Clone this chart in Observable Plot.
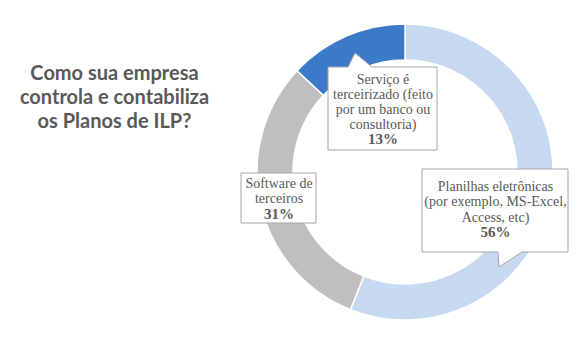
<!DOCTYPE html>
<html>
<head>
<meta charset="utf-8">
<script src="https://cdn.jsdelivr.net/npm/d3@7"></script>
<script src="https://cdn.jsdelivr.net/npm/@observablehq/plot@0.6"></script>
<style>
  html, body { margin: 0; padding: 0; background: #fff; }
  #chart svg { display: block; }
</style>
</head>
<body>
<div id="chart"></div>
<script>
// ---- data ----
const categories = [
  "Planilhas eletrônicas (por exemplo, MS-Excel, Access, etc)",
  "Software de terceiros",
  "Serviço é terceirizado (feito por um banco ou consultoria)"
];
const values = [56, 31, 13];
const labelLines = [
  ["Planilhas eletrônicas", "(por exemplo, MS-Excel,", "Access, etc)"],
  ["Software de", "terceiros"],
  ["Serviço é", "terceirizado (feito", "por um banco ou", "consultoria)"]
];
const colors = ["#C6D9F1", "#BFBFBF", "#3A7AC8"];
const titleLines = ["Como sua empresa", "controla e contabiliza", "os Planos de ILP?"];

// ---- layout (pixel space) ----
const W = 588, H = 356;
const donut = {cx: 405, cy: 172, outer: 148, inner: 112};
const boxes = [
  {x1: 422, x2: 568, y1: 169, y2: 252, tx: 495, ty: 190, lh: 15.6,
   pointer: {side: "bottom", a: 498, b: 522, tip: [499, 267]}},
  {x1: 241, x2: 316, y1: 173, y2: 223, tx: 278.5, ty: 187, lh: 15.6, pointer: null},
  {x1: 328, x2: 437, y1: 67, y2: 150, tx: 382.5, ty: 83, lh: 15.0,
   pointer: {side: "top", a: 348, b: 372, tip: [355, 53]}}
];
const title = {x: 114, y: 79, lh: 24};
const textColor = "#595959";
const serif = "Liberation Serif, serif";

const data = categories.map((c, i) => ({category: c, value: values[i], i}));
const pie = d3.pie().sort(null).value(d => d.value).startAngle(0).endAngle(2 * Math.PI)(data);

// label line rows
const lineRows = [];
data.forEach((d, i) => {
  const b = boxes[i];
  const ls = labelLines[i].concat([d.value + "%"]);
  ls.forEach((t, k) => lineRows.push({t, x: b.tx, y: b.ty + k * b.lh, bold: k === ls.length - 1}));
});
const titleRows = titleLines.map((t, k) => ({t, x: title.x, y: title.y + k * title.lh}));

// donut arcs via Plot scales
function donutMark(index, scales) {
  const sx = scales.x, sy = scales.y, color = scales.color;
  const cx = sx(donut.cx), cy = sy(donut.cy);
  const ro = sx(donut.cx + donut.outer) - cx, ri = sx(donut.cx + donut.inner) - cx;
  const arc = d3.arc().innerRadius(ri).outerRadius(ro);
  const g = d3.create("svg:g").attr("transform", `translate(${cx},${cy})`);
  g.selectAll("path").data(pie).join("path")
    .attr("d", arc)
    .attr("fill", d => color(d.data.category))
    .attr("stroke", "#fff")
    .attr("stroke-width", 1.5);
  return g.node();
}

// callout boxes via Plot scales
function calloutMark(index, scales) {
  const sx = scales.x, sy = scales.y;
  const g = d3.create("svg:g");
  boxes.forEach(b => {
    const x1 = sx(b.x1), x2 = sx(b.x2), y1 = sy(b.y1), y2 = sy(b.y2);
    let p;
    const pt = b.pointer;
    if (pt && pt.side === "top") {
      p = `M${x1},${y1}L${sx(pt.a)},${y1}L${sx(pt.tip[0])},${sy(pt.tip[1])}L${sx(pt.b)},${y1}L${x2},${y1}L${x2},${y2}L${x1},${y2}Z`;
    } else if (pt && pt.side === "bottom") {
      p = `M${x1},${y1}L${x2},${y1}L${x2},${y2}L${sx(pt.b)},${y2}L${sx(pt.tip[0])},${sy(pt.tip[1])}L${sx(pt.a)},${y2}L${x1},${y2}Z`;
    } else {
      p = `M${x1},${y1}L${x2},${y1}L${x2},${y2}L${x1},${y2}Z`;
    }
    g.append("path").attr("d", p).attr("fill", "#fff").attr("stroke", "#A6A6A6").attr("stroke-width", 1);
  });
  return g.node();
}

const chart = Plot.plot({
  width: W,
  height: H,
  margin: 0,
  x: {domain: [0, W], range: [0, W], axis: null},
  y: {domain: [0, H], range: [0, H], axis: null},
  color: {domain: categories, range: colors},
  style: {background: "#fff"},
  marks: [
    Plot.dot(data, {x: () => donut.cx, y: () => donut.cy, fill: "category", r: 0}),
    donutMark,
    calloutMark,
    Plot.text(lineRows.filter(d => !d.bold), {
      x: "x", y: "y", text: "t", textAnchor: "middle", lineAnchor: "bottom",
      fill: textColor, fontFamily: serif, fontSize: 14
    }),
    Plot.text(lineRows.filter(d => d.bold), {
      x: "x", y: "y", text: "t", textAnchor: "middle", lineAnchor: "bottom",
      fill: textColor, fontFamily: serif, fontSize: 15, fontWeight: "bold"
    }),
    Plot.text(titleRows, {
      x: "x", y: "y", text: "t", textAnchor: "middle", lineAnchor: "bottom",
      fill: textColor, fontFamily: "Lato, sans-serif", fontSize: 20, fontWeight: "bold"
    })
  ]
});
document.getElementById("chart").appendChild(chart);
</script>
</body>
</html>
